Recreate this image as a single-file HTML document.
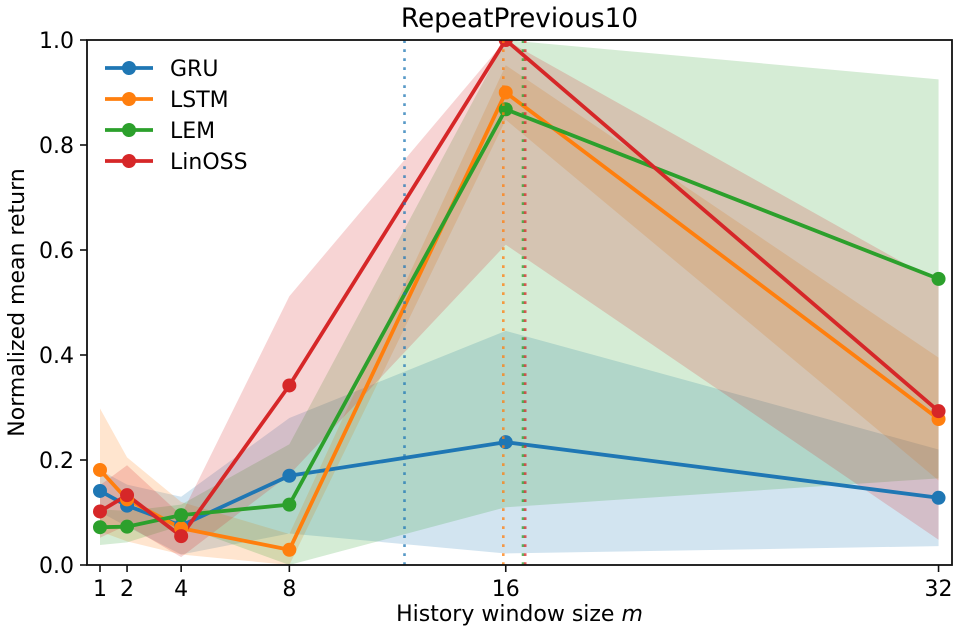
<!DOCTYPE html>
<html><head><meta charset="utf-8"><style>
html,body{margin:0;padding:0;background:#fff;}
svg{display:block;}
text{font-family:"DejaVu Sans","Liberation Sans",sans-serif;fill:#000;}
</style></head><body>
<svg width="960" height="640" viewBox="0 0 960 640" xmlns="http://www.w3.org/2000/svg">
<defs><clipPath id="ax"><rect x="87" y="40" width="865" height="525"/></clipPath></defs>
<rect width="960" height="640" fill="#fff"/>
<g clip-path="url(#ax)">
<polygon fill="#1f77b4" fill-opacity="0.2" points="100,469.98 127.05,484.68 181.15,496.75 289.35,418 505.75,330.85 938.55,449.5 938.55,546.1 505.75,553.45 289.35,533.5 181.15,554.5 127.05,526.68 100,511.98"/>
<polygon fill="#ff7f0e" fill-opacity="0.2" points="100,408.55 127.05,457.38 181.15,502 289.35,534.03 505.75,65.2 938.55,357.63 938.55,480.48 505.75,119.8 289.35,565 181.15,554.5 127.05,541.38 100,531.4"/>
<polygon fill="#2ca02c" fill-opacity="0.2" points="100,509.35 127.05,510.93 181.15,504.63 289.35,444.25 505.75,40 938.55,79.38 938.55,478.38 505.75,507.25 289.35,565 181.15,525.63 127.05,542.43 100,545.05"/>
<polygon fill="#d62728" fill-opacity="0.2" points="100,485.2 127.05,465.25 181.15,515.13 289.35,296.2 505.75,40 938.55,282.55 938.55,539.8 505.75,244.75 289.35,474.7 181.15,557.13 127.05,525.1 100,537.7"/>
<g fill="none" stroke-width="3.8" stroke-linejoin="round" stroke-linecap="butt">
<polyline stroke="#1f77b4" points="100,490.98 127.05,505.68 181.15,525.63 289.35,475.75 505.75,442.15 938.55,497.8"/>
<polyline stroke="#ff7f0e" points="100,469.98 127.05,499.38 181.15,528.25 289.35,549.78 505.75,92.5 938.55,419.05"/>
<polyline stroke="#2ca02c" points="100,527.2 127.05,526.68 181.15,515.13 289.35,504.63 505.75,109.3 938.55,278.88"/>
<polyline stroke="#d62728" points="100,511.45 127.05,495.18 181.15,536.13 289.35,385.45 505.75,40 938.55,411.18"/>
</g>
<g fill="#1f77b4"><circle cx="100" cy="490.98" r="7"/><circle cx="127.05" cy="505.68" r="7"/><circle cx="181.15" cy="525.63" r="7"/><circle cx="289.35" cy="475.75" r="7"/><circle cx="505.75" cy="442.15" r="7"/><circle cx="938.55" cy="497.8" r="7"/></g>
<g fill="#ff7f0e"><circle cx="100" cy="469.98" r="7"/><circle cx="127.05" cy="499.38" r="7"/><circle cx="181.15" cy="528.25" r="7"/><circle cx="289.35" cy="549.78" r="7"/><circle cx="505.75" cy="92.5" r="7"/><circle cx="938.55" cy="419.05" r="7"/></g>
<g fill="#2ca02c"><circle cx="100" cy="527.2" r="7"/><circle cx="127.05" cy="526.68" r="7"/><circle cx="181.15" cy="515.13" r="7"/><circle cx="289.35" cy="504.63" r="7"/><circle cx="505.75" cy="109.3" r="7"/><circle cx="938.55" cy="278.88" r="7"/></g>
<g fill="#d62728"><circle cx="100" cy="511.45" r="7"/><circle cx="127.05" cy="495.18" r="7"/><circle cx="181.15" cy="536.13" r="7"/><circle cx="289.35" cy="385.45" r="7"/><circle cx="505.75" cy="40" r="7"/><circle cx="938.55" cy="411.18" r="7"/></g>
<g stroke-width="2.6" stroke-dasharray="2.7 6.3" stroke-opacity="0.75">
<line x1="404.5" y1="565" x2="404.5" y2="40" stroke="#1f77b4"/>
<line x1="503.3" y1="565" x2="503.3" y2="40" stroke="#ff7f0e"/>
<line x1="523" y1="565" x2="523" y2="40" stroke="#2ca02c"/>
<line x1="525.2" y1="565" x2="525.2" y2="40" stroke="#d62728"/>
</g>
</g>
<rect x="87" y="40" width="865" height="525" fill="none" stroke="#111" stroke-width="1.8"/>
<g stroke="#111" stroke-width="1.6">
<line x1="100" y1="565" x2="100" y2="572"/><line x1="127.05" y1="565" x2="127.05" y2="572"/><line x1="181.15" y1="565" x2="181.15" y2="572"/><line x1="289.35" y1="565" x2="289.35" y2="572"/><line x1="505.75" y1="565" x2="505.75" y2="572"/><line x1="938.55" y1="565" x2="938.55" y2="572"/>
<line x1="80" y1="565" x2="87" y2="565"/><line x1="80" y1="460" x2="87" y2="460"/><line x1="80" y1="355" x2="87" y2="355"/><line x1="80" y1="250" x2="87" y2="250"/><line x1="80" y1="145" x2="87" y2="145"/><line x1="80" y1="40" x2="87" y2="40"/>
</g>
<g font-size="22" text-anchor="middle">
<text x="100" y="596">1</text><text x="127.05" y="596">2</text><text x="181.15" y="596">4</text><text x="289.35" y="596">8</text><text x="505.75" y="596">16</text><text x="938.55" y="596">32</text>
</g>
<g font-size="22" text-anchor="end">
<text x="74" y="573">0.0</text><text x="74" y="468">0.2</text><text x="74" y="363">0.4</text><text x="74" y="258">0.6</text><text x="74" y="153">0.8</text><text x="74" y="48">1.0</text>
</g>
<text x="519.5" y="621" font-size="22" text-anchor="middle">History window size <tspan font-style="italic">m</tspan></text>
<text transform="translate(24,302.5) rotate(-90)" font-size="22" text-anchor="middle">Normalized mean return</text>
<text x="519.5" y="27" font-size="26.3" text-anchor="middle">RepeatPrevious10</text>
<g stroke-width="3.8">
<line x1="105" y1="68" x2="153" y2="68" stroke="#1f77b4"/><circle cx="129" cy="68" r="7" fill="#1f77b4"/>
<line x1="105" y1="99" x2="153" y2="99" stroke="#ff7f0e"/><circle cx="129" cy="99" r="7" fill="#ff7f0e"/>
<line x1="105" y1="130" x2="153" y2="130" stroke="#2ca02c"/><circle cx="129" cy="130" r="7" fill="#2ca02c"/>
<line x1="105" y1="161" x2="153" y2="161" stroke="#d62728"/><circle cx="129" cy="161" r="7" fill="#d62728"/>
</g>
<g font-size="22">
<text x="170" y="76">GRU</text><text x="170" y="107">LSTM</text><text x="170" y="138">LEM</text><text x="170" y="169">LinOSS</text>
</g>
</svg>
</body></html>
